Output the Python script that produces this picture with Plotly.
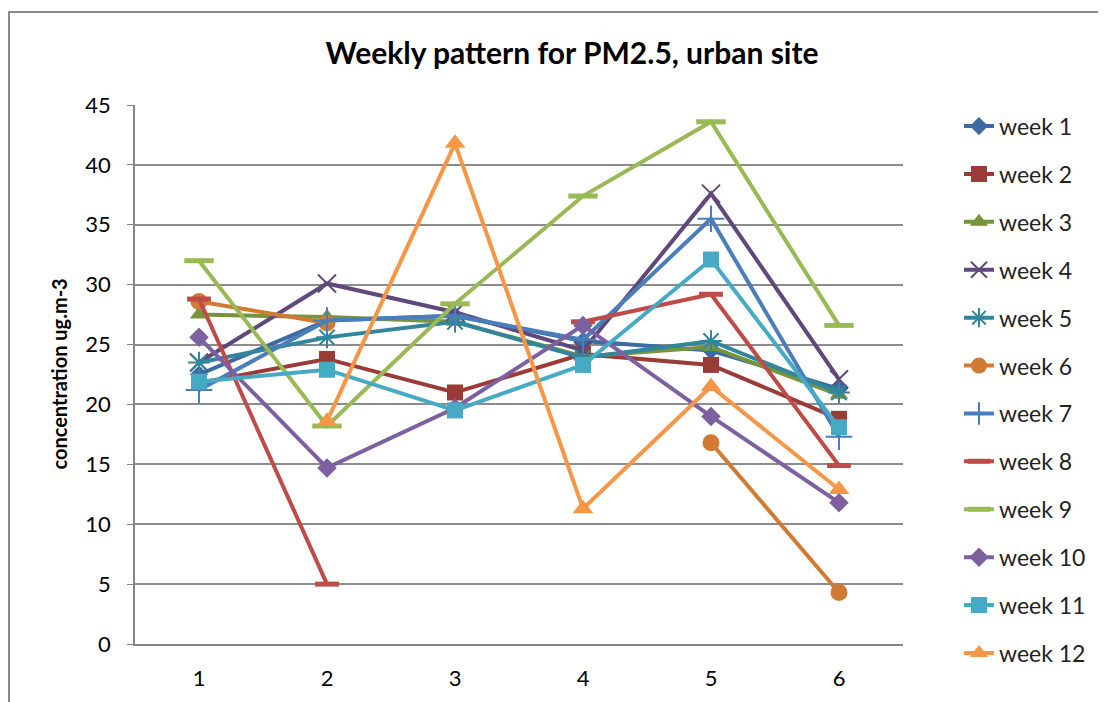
import plotly.graph_objects as go

days = [1, 2, 3, 4, 5, 6]
tick_labels = ["1", "2", "3", "4", "5", "6"]

week1 = [22.5, 27.0, 27.4, 25.3, 24.5, 21.3]
week2 = [21.8, 23.8, 21.0, 24.2, 23.3, 18.8]
week3 = [27.5, 27.3, 26.9, 24.0, 24.8, 20.8]
week4 = [23.5, 30.1, 27.7, 24.5, 37.6, 22.1]
week5 = [23.5, 25.6, 26.9, 23.9, 25.3, 21.0]
week6 = [28.6, 26.8, None, None, 16.8, 4.3]
week7 = [21.2, 27.0, 27.4, 25.4, 35.5, 17.3]
week8 = [28.8, 5.0, None, 26.9, 29.2, 14.9]
week9 = [32.0, 18.2, 28.4, 37.4, 43.6, 26.6]
week10 = [25.6, 14.7, 19.7, 26.6, 19.0, 11.8]
week11 = [21.9, 22.9, 19.5, 23.3, 32.1, 18.1]
week12 = [None, 18.6, 41.8, 11.3, 21.5, 12.9]

names = ["week 1", "week 2", "week 3", "week 4", "week 5", "week 6",
         "week 7", "week 8", "week 9", "week 10", "week 11", "week 12"]
series = [week1, week2, week3, week4, week5, week6,
          week7, week8, week9, week10, week11, week12]

colors = ["#3C6AA3", "#9B3B38", "#77933C", "#5F497A", "#31859C", "#D07A34",
          "#4A7EBB", "#BE4B48", "#98B954", "#7D60A0", "#46AAC5", "#F79646"]
symbols = ["diamond", "square", "triangle-up", "x-thin-open", "asterisk-open", "circle",
           "cross-thin-open", "line-ew-open", "line-ew-open", "diamond", "square", "triangle-up"]
sizes = [14, 16, 16, 18, 18, 17, 19, 17, 21, 15, 16, 18]
mline = [0, 0, 0, 2, 2, 0, 2, 5, 5, 0, 0, 0]

FONT = "Lato, Liberation Sans, sans-serif"

fig = go.Figure()
for i, (n, s) in enumerate(zip(names, series)):
    fig.add_trace(go.Scatter(
        x=days, y=s, name=n, mode="lines+markers",
        connectgaps=False,
        legendgroup=n,
        line=dict(color=colors[i], width=4),
        marker=dict(symbol=symbols[i], size=sizes[i], color=colors[i],
                    line=dict(color=colors[i], width=mline[i])),
    ))

# page body has an 8px margin, so figure coords = screen coords - 8
fig.update_layout(
    width=1098, height=694,
    margin=dict(l=127, r=203, t=97, b=58),
    paper_bgcolor="white", plot_bgcolor="white",
    font=dict(family=FONT, color="#000000", size=22),
    title=dict(text="<b>Weekly pattern for PM2.5, urban site</b>",
               x=564 / 1098, xref="container", xanchor="center",
               y=1 - 45 / 694, yref="container", yanchor="middle",
               font=dict(size=30, family=FONT, color="#000")),
    legend=dict(x=1.0729, xanchor="left", y=1.0007, yanchor="top",
                font=dict(size=23, color="#222"), maxheight=690,
                tracegroupgap=15, itemsizing="trace", bgcolor="rgba(0,0,0,0)"),
    showlegend=True,
)

fig.update_xaxes(
    range=[0.5, 6.5], tickvals=days, ticktext=tick_labels,
    showgrid=False, showline=True, linecolor="#868686", linewidth=1.5,
    ticks="", ticklabelstandoff=14, zeroline=False,
)
fig.update_yaxes(
    range=[0, 45], dtick=5, tick0=0,
    showgrid=True, gridcolor="#8C8C8C", gridwidth=1.5,
    showline=True, linecolor="#868686", linewidth=1.5,
    ticks="outside", ticklen=6, tickcolor="#868686", ticklabelstandoff=12,
    zeroline=False,
)

fig.add_annotation(
    text="<b>concentration ug.m-3</b>", textangle=-90,
    xref="paper", yref="paper", x=(58 - 135) / 768, y=0.5,
    xanchor="center", yanchor="middle", showarrow=False,
    font=dict(size=20, family=FONT, color="#000"),
)

fig.add_shape(
    type="rect", xref="paper", yref="paper",
    x0=(9 - 135) / 768, x1=(1130 - 135) / 768,
    y0=(644 - 740) / 539, y1=(644 - 12) / 539,
    line=dict(color="#8A8A8A", width=2), layer="below",
)

fig.write_html("out.html")
